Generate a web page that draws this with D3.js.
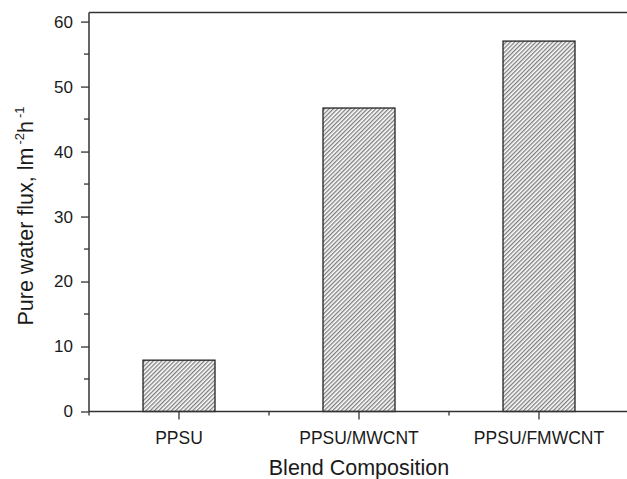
<!DOCTYPE html>
<html>
<head>
<meta charset="utf-8">
<script src="https://cdn.jsdelivr.net/npm/d3@7"></script>
<style>
  html, body { margin: 0; padding: 0; background: #fff; }
  svg { display: block; font-family: "Liberation Sans", Arial, Helvetica, sans-serif; }
</style>
</head>
<body>
<svg id="chart" width="627" height="479"></svg>
<script>
// Pure water flux of each blend membrane
const categories = ["PPSU", "PPSU/MWCNT", "PPSU/FMWCNT"];
const fluxValues = [7.9, 46.7, 57.0];
const yTickValues = [0, 10, 20, 30, 40, 50, 60];
const yMinorTickValues = [5, 15, 25, 35, 45, 55];

const svg = d3.select("#chart");
const plotLeft = 89, plotRight = 629, plotTop = 12.5, plotBottom = 411.5;
const ink = "#333";
const textInk = "#1a1a1a";

const x = d3.scaleBand().domain(categories).range([plotLeft, plotRight]).paddingInner(0).paddingOuter(0);
const y = d3.scaleLinear().domain([0, 61.4]).range([plotBottom, plotTop]);

// diagonal hatch for the bars
const hatchStep = 3;
const defs = svg.append("defs");
const pat = defs.append("pattern")
  .attr("id", "hatch")
  .attr("patternUnits", "userSpaceOnUse")
  .attr("width", hatchStep).attr("height", hatchStep)
  .attr("patternTransform", "rotate(45)");
pat.append("rect").attr("width", hatchStep).attr("height", hatchStep).attr("fill", "#fff");
pat.append("line")
  .attr("x1", 0.75).attr("y1", 0).attr("x2", 0.75).attr("y2", hatchStep)
  .attr("stroke", "#333").attr("stroke-width", 0.85);

// bars
const barW = x.bandwidth() * 0.4;
svg.append("g").selectAll("rect")
  .data(categories)
  .join("rect")
  .attr("x", d => x(d) + (x.bandwidth() - barW) / 2)
  .attr("y", (d, i) => y(fluxValues[i]))
  .attr("width", barW)
  .attr("height", (d, i) => y(0) - y(fluxValues[i]))
  .attr("fill", "url(#hatch)")
  .attr("stroke", "#222")
  .attr("stroke-width", 1.3);

// top frame line
svg.append("line")
  .attr("x1", plotLeft).attr("x2", plotRight)
  .attr("y1", plotTop).attr("y2", plotTop)
  .attr("stroke", ink).attr("stroke-width", 1.5);

// y axis
const yAxis = svg.append("g").attr("transform", `translate(${plotLeft},0)`)
  .call(d3.axisLeft(y).tickValues(yTickValues).tickSize(8).tickPadding(8).tickSizeOuter(0));
yAxis.select(".domain").attr("stroke", ink).attr("stroke-width", 1.5).attr("d", `M0,${plotTop}V${plotBottom}`);
yAxis.selectAll(".tick line").attr("stroke", ink).attr("stroke-width", 1.3);
yAxis.selectAll(".tick text").attr("font-size", 17).attr("fill", textInk).attr("font-family", "Liberation Sans, Arial, sans-serif");

svg.append("g").selectAll("line")
  .data(yMinorTickValues)
  .join("line")
  .attr("x1", plotLeft - 5).attr("x2", plotLeft)
  .attr("y1", d => y(d)).attr("y2", d => y(d))
  .attr("stroke", ink).attr("stroke-width", 1.3);

// x axis
const xAxis = svg.append("g").attr("transform", `translate(0,${plotBottom})`)
  .call(d3.axisBottom(x).tickSize(8).tickPadding(12).tickSizeOuter(0));
xAxis.select(".domain").attr("stroke", ink).attr("stroke-width", 1.5).attr("d", `M${plotLeft},0H${plotRight}`);
xAxis.selectAll(".tick line").attr("stroke", ink).attr("stroke-width", 1.3);
xAxis.selectAll(".tick text").attr("font-size", 17.5).attr("fill", textInk).attr("font-family", "Liberation Sans, Arial, sans-serif");

// minor ticks on the band boundaries
const boundaries = categories.map(c => x(c)).concat([x(categories[categories.length - 1]) + x.bandwidth()]);
svg.append("g").selectAll("line")
  .data(boundaries.filter(b => b < 627))
  .join("line")
  .attr("x1", d => d).attr("x2", d => d)
  .attr("y1", plotBottom).attr("y2", plotBottom + 4)
  .attr("stroke", ink).attr("stroke-width", 1.3);

// axis titles
svg.append("text")
  .attr("x", 359).attr("y", 475)
  .attr("text-anchor", "middle")
  .attr("font-size", 21.5).attr("fill", textInk)
  .text("Blend Composition");

const yTitle = svg.append("text")
  .attr("transform", `translate(33,216) rotate(-90)`)
  .attr("text-anchor", "middle")
  .attr("font-size", 21.5).attr("fill", textInk);
yTitle.append("tspan").text("Pure water flux, lm");
yTitle.append("tspan").attr("font-size", 13).attr("dy", -9).attr("dx", 3).text("-2");
yTitle.append("tspan").attr("dy", 9).text("h");
yTitle.append("tspan").attr("font-size", 13).attr("dy", -9).attr("dx", 3).text("-1");
</script>
</body>
</html>
